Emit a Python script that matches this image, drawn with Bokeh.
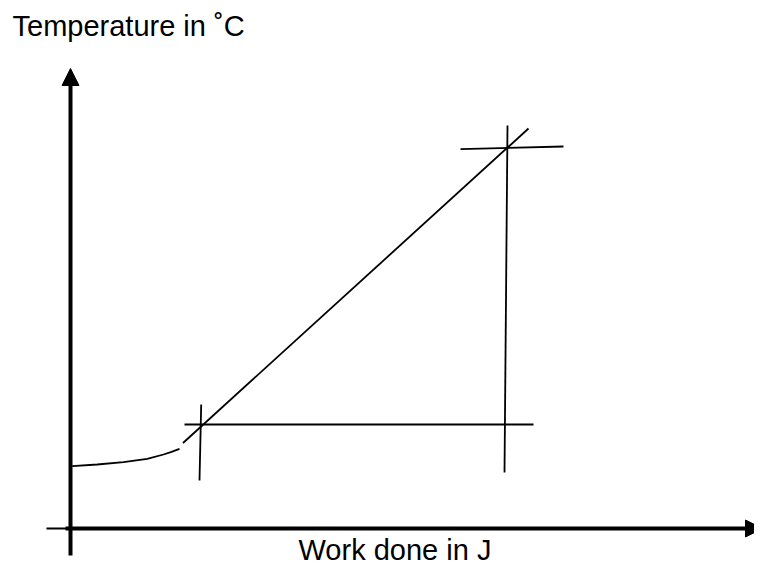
from bokeh.plotting import figure
from bokeh.models import Range1d, Arrow, NormalHead, ColumnDataSource
from bokeh.core.properties import value
from bokeh.embed import file_html
from bokeh.resources import INLINE

# ---- data (arbitrary units: work done on x, temperature on y) ----
# axes
y_axis_x = [0, 0]
y_axis_y = [-27, 460]
x_axis_x = [-5, 692]
x_axis_y = [0, 0]
x_axis_tail_x = [-24, -4]
x_axis_tail_y = [0, 0]

# heating curve before the linear part
curve_work = [1.7, 26.7, 53, 76.7, 93, 101, 109]
curve_temp = [62.3, 64, 66.3, 69.7, 74, 76.6, 79.7]

# linear part
line_work = [112.5, 458]
line_temp = [85.5, 400]

# construction lines (crosses)
lower_vert_work = [130.7, 129]
lower_vert_temp = [124, 48]
lower_horiz_work = [114, 463]
lower_horiz_temp = [104, 104]
upper_vert_work = [437, 434]
upper_vert_temp = [403, 56]
upper_horiz_work = [390, 493]
upper_horiz_temp = [379.3, 382]

# labels
label_text = ["Temperature in \u02daC", "Work done in J"]
label_x = [-58, 228]
label_y = [503, -37]
label_baseline = ["alphabetic", "bottom"]

p = figure(width=754, height=566, output_backend="svg", toolbar_location=None,
           x_range=Range1d(-70, 684), y_range=Range1d(-38, 528),
           x_axis_location=None, y_axis_location=None,
           min_border=0, min_border_left=0, min_border_right=0,
           min_border_top=0, min_border_bottom=0)
p.grid.visible = False
p.outline_line_color = None
p.background_fill_color = "white"
p.border_fill_color = "white"

# axes with arrows
p.add_layout(Arrow(end=NormalHead(size=17, fill_color="black", line_color="black", line_width=1),
                   x_start=y_axis_x[0], y_start=y_axis_y[0], x_end=y_axis_x[1], y_end=y_axis_y[1],
                   line_width=4, line_color="black"))
p.add_layout(Arrow(end=NormalHead(size=17, fill_color="black", line_color="black", line_width=1),
                   x_start=x_axis_x[0], y_start=x_axis_y[0], x_end=x_axis_x[1], y_end=x_axis_y[1],
                   line_width=4, line_color="black"))
p.line(x_axis_tail_x, x_axis_tail_y, line_width=1.8, line_color="black")

# curve and line
p.line(curve_work, curve_temp, line_width=1.8, line_color="black")
p.line(line_work, line_temp, line_width=1.8, line_color="black")

# crosses
for xs, ys in [(lower_vert_work, lower_vert_temp), (lower_horiz_work, lower_horiz_temp),
               (upper_vert_work, upper_vert_temp), (upper_horiz_work, upper_horiz_temp)]:
    p.line(xs, ys, line_width=1.8, line_color="black")

src = ColumnDataSource(dict(x=label_x, y=label_y, text=label_text, bl=label_baseline))
p.text(x="x", y="y", text="text", source=src, text_font=value("Liberation Sans"),
       text_font_size="29px", text_baseline="bl", text_align="left",
       text_color="black")

open("out.html", "w").write(file_html(p, INLINE))
